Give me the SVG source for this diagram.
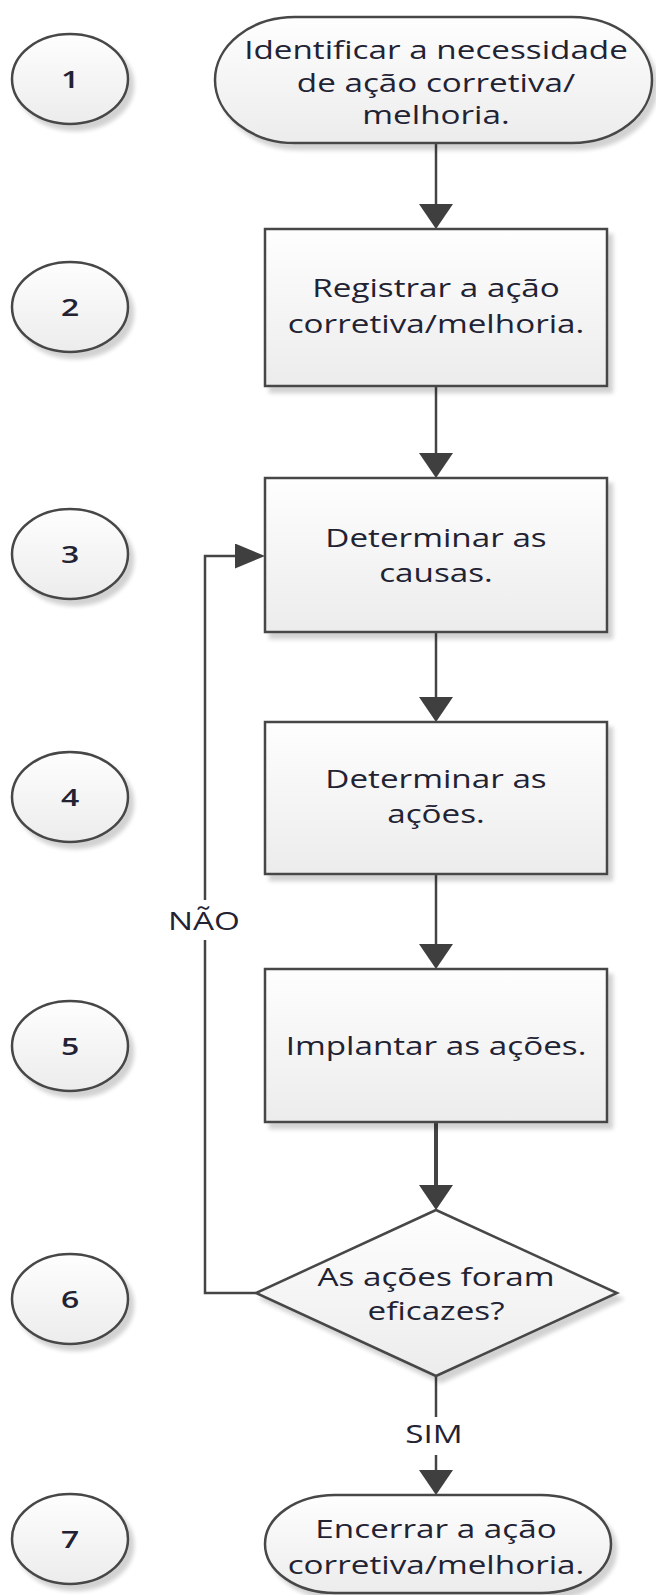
<svg xmlns="http://www.w3.org/2000/svg" width="656" height="1595" viewBox="0 0 656 1595">
<defs>
<style>
.t{font-family:"Open Sans","Noto Sans","Liberation Sans",sans-serif;font-size:25px;font-weight:500;fill:#222233;text-anchor:middle}
.n{font-family:"Open Sans","Noto Sans","Liberation Sans",sans-serif;font-size:24px;font-weight:600;fill:#222233;text-anchor:middle}
.shp{fill:url(#g);stroke:#474747;stroke-width:2.5;filter:url(#sh)}
.c{fill:none;stroke:#444;stroke-width:2.5}
</style>
<linearGradient id="g" x1="0" y1="0" x2="0" y2="1">
<stop offset="0" stop-color="#fefefe"/>
<stop offset="1" stop-color="#ececec"/>
</linearGradient>
<filter id="sh" x="-10%" y="-10%" width="130%" height="130%">
<feGaussianBlur in="SourceAlpha" stdDeviation="2"/>
<feOffset dx="5" dy="6" result="o"/>
<feComponentTransfer><feFuncA type="linear" slope="0.18"/></feComponentTransfer>
<feMerge><feMergeNode/><feMergeNode in="SourceGraphic"/></feMerge>
</filter>
<marker id="av" markerUnits="userSpaceOnUse" markerWidth="26" markerHeight="34" refX="0" refY="17" orient="auto" viewBox="0 0 26 34">
<path d="M0,0 L25,17 L0,34 Z" fill="#3f3f3f"/>
</marker>
<marker id="ah" markerUnits="userSpaceOnUse" markerWidth="31" markerHeight="25" refX="0" refY="12.5" orient="auto" viewBox="0 0 31 25">
<path d="M0,0 L30,12.5 L0,25 Z" fill="#3f3f3f"/>
</marker>
</defs>
<rect width="656" height="1595" fill="#fff"/>

<g id="connectors">
<path class="c" d="M436,143 V204" marker-end="url(#av)"/>
<path class="c" d="M436,386 V453" marker-end="url(#av)"/>
<path class="c" d="M436,632 V697" marker-end="url(#av)"/>
<path class="c" d="M436,874 V944" marker-end="url(#av)"/>
<path class="c" d="M436,1122 V1185" style="stroke-width:4" marker-end="url(#av)"/>
<path class="c" d="M436,1376 V1417"/>
<path class="c" d="M436,1455 V1470" marker-end="url(#av)"/>
<path class="c" d="M256,1293 H205 V940"/>
<path class="c" d="M205,900 V556 H235" marker-end="url(#ah)"/>
<text class="t" transform="matrix(1.33 0 0 1 204 930)">NÃO</text>
<text class="t" transform="matrix(1.33 0 0 1 434 1443)">SIM</text>
</g>

<g id="n1">
<ellipse class="shp" cx="70" cy="79" rx="58" ry="45"/>
<text class="n" transform="matrix(1.33 0 0 1 70 88)">1</text>
</g>
<g id="n2">
<ellipse class="shp" cx="70" cy="307" rx="58" ry="45"/>
<text class="n" transform="matrix(1.33 0 0 1 70 316)">2</text>
</g>
<g id="n3">
<ellipse class="shp" cx="70" cy="554" rx="58" ry="45"/>
<text class="n" transform="matrix(1.33 0 0 1 70 563)">3</text>
</g>
<g id="n4">
<ellipse class="shp" cx="70" cy="797" rx="58" ry="45"/>
<text class="n" transform="matrix(1.33 0 0 1 70 806)">4</text>
</g>
<g id="n5">
<ellipse class="shp" cx="70" cy="1046" rx="58" ry="45"/>
<text class="n" transform="matrix(1.33 0 0 1 70 1055)">5</text>
</g>
<g id="n6">
<ellipse class="shp" cx="70" cy="1299" rx="58" ry="45"/>
<text class="n" transform="matrix(1.33 0 0 1 70 1308)">6</text>
</g>
<g id="n7">
<ellipse class="shp" cx="70" cy="1539" rx="58" ry="45"/>
<text class="n" transform="matrix(1.33 0 0 1 70 1548)">7</text>
</g>

<g id="s1">
<rect class="shp" x="215" y="17" width="437" height="126" rx="80" ry="63"/>
<text class="t" transform="matrix(1.33 0 0 1 436 59)">Identificar a necessidade</text>
<text class="t" transform="matrix(1.33 0 0 1 436 92)">de ação corretiva/</text>
<text class="t" transform="matrix(1.33 0 0 1 436 124)">melhoria.</text>
</g>
<g id="s2">
<rect class="shp" x="265" y="229" width="342" height="157"/>
<text class="t" transform="matrix(1.33 0 0 1 436 297)">Registrar a ação</text>
<text class="t" transform="matrix(1.33 0 0 1 436 333)">corretiva/melhoria.</text>
</g>
<g id="s3">
<rect class="shp" x="265" y="478" width="342" height="154"/>
<text class="t" transform="matrix(1.33 0 0 1 436 547)">Determinar as</text>
<text class="t" transform="matrix(1.33 0 0 1 436 582)">causas.</text>
</g>
<g id="s4">
<rect class="shp" x="265" y="722" width="342" height="152"/>
<text class="t" transform="matrix(1.33 0 0 1 436 788)">Determinar as</text>
<text class="t" transform="matrix(1.33 0 0 1 436 823)">ações.</text>
</g>
<g id="s5">
<rect class="shp" x="265" y="969" width="342" height="153"/>
<text class="t" transform="matrix(1.33 0 0 1 436 1055)">Implantar as ações.</text>
</g>
<g id="s6">
<polygon class="shp" points="436,1210 617,1293 436,1376 256,1293"/>
<text class="t" transform="matrix(1.33 0 0 1 436 1286)">As ações foram</text>
<text class="t" transform="matrix(1.33 0 0 1 436 1320)">eficazes?</text>
</g>
<g id="s7">
<rect class="shp" x="265" y="1495" width="346" height="98" rx="70" ry="49"/>
<text class="t" transform="matrix(1.33 0 0 1 436 1538)">Encerrar a ação</text>
<text class="t" transform="matrix(1.33 0 0 1 436 1574)">corretiva/melhoria.</text>
</g>
</svg>
